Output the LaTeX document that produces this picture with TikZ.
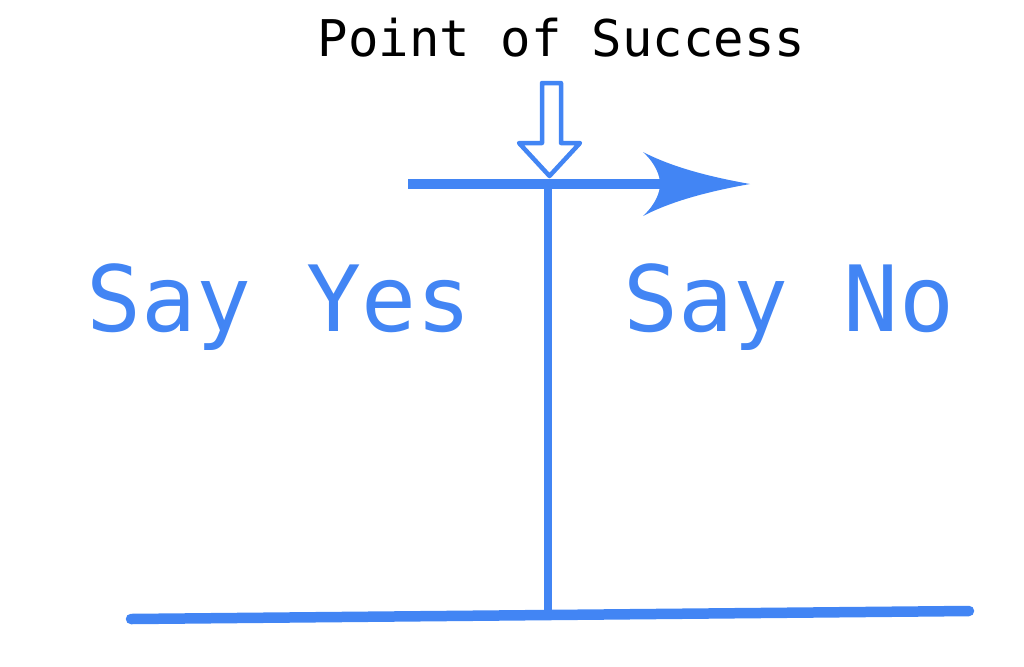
\documentclass[tikz,border=0pt]{standalone}
\usepackage{fontspec}
\usepackage{xcolor}
\usepackage{tikz}
\usetikzlibrary{calc}
\setmonofont{DejaVu Sans Mono}
\definecolor{sayblue}{RGB}{66,133,244}
\tikzset{
  blueline/.style={draw=sayblue,line width=0.105cm},
  saytext/.style={text=sayblue,font=\ttfamily\fontsize{26}{30}\selectfont,inner sep=0pt,anchor=base},
  hollowarrow/.style={draw=sayblue,fill=white,line width=0.045cm,line join=round}
}

\begin{document}
\begin{tikzpicture}
\useasboundingbox (0,0) rectangle (10.24,-6.66);
% title and the two sides
\node[anchor=base,inner sep=0pt,font=\ttfamily\fontsize{14.4}{17}\selectfont] (title) at (5.615,-0.56) {Point of Success};
\node[saytext] (yes) at (2.79,-3.31) {Say Yes};
\node[saytext] (no) at (7.89,-3.31) {Say No};
% the lines
\coordinate (start) at (4.08,-1.84);
\coordinate (cross) at (5.48,-1.84);
\coordinate (tip) at (7.50,-1.84);
\coordinate (back) at (6.62,-1.84);
\coordinate (foot) at (5.48,-6.15);
\coordinate (groundl) at (1.31,-6.19);
\coordinate (groundr) at (9.69,-6.11);
\draw[blueline,line cap=round] (groundl) to (groundr);
\draw[draw=sayblue,line width=0.088cm] (cross) to (foot);
\draw[blueline] (start) to (back);
\fill[sayblue] (tip) .. controls (7.05,-1.76) and (6.70,-1.66) .. (6.43,-1.52)
  .. controls (6.56,-1.64) and (6.60,-1.76) .. (6.60,-1.84)
  .. controls (6.60,-1.92) and (6.56,-2.04) .. (6.43,-2.16)
  .. controls (6.70,-2.02) and (7.05,-1.92) .. cycle;
% marker
\draw[hollowarrow] (5.42,-0.83) -- (5.61,-0.83) -- (5.61,-1.43) -- (5.80,-1.43)
  -- (5.495,-1.76) -- (5.19,-1.43) -- (5.42,-1.43) -- cycle;
\end{tikzpicture}
\end{document}
